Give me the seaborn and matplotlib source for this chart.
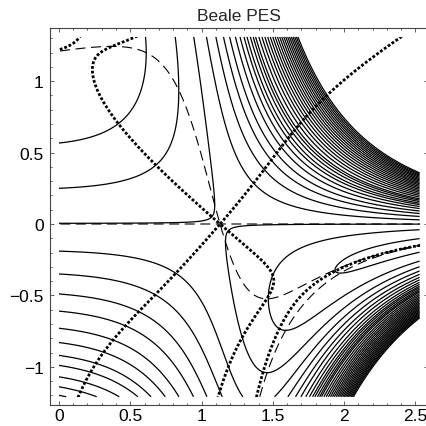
import numpy as np
import matplotlib
matplotlib.use("Agg")
import matplotlib.pyplot as plt
from matplotlib.patches import Rectangle
from matplotlib.ticker import MultipleLocator, FixedLocator, FixedFormatter
import seaborn as sns

sns.set_theme(style="ticks")
plt.rcParams['font.family'] = ['Liberation Sans', 'DejaVu Sans']

# Beale-type surface: the Beale x runs up the vertical axis, y along the horizontal one
beale_c = [1.5, 2.25, 2.625]
kappa, eps = 4.5, -6.5

# plotted window of the surface
h_range = [0.0, 2.53]
v_range = [-1.21, 1.31]

# heights at which contour lines leave the left edge
edge_v = [0.567, 0.25, 0.005, -0.19, -0.35, -0.49, -0.61, -0.73, -0.83,
          -0.92, -0.99, -1.07, -1.14, -1.2]
n_fan = 30  # contour lines above the saddle level

x_ticks = [0, 0.5, 1, 1.5, 2, 2.5]
x_tick_labels = ['0', '0.5', '1', '1.5', '2', '2.5']
y_ticks = [-1, -0.5, 0, 0.5, 1]
y_tick_labels = ['\u22121', '\u22120.5', '0', '0.5', '1']


def beale(x, y):
    return sum((c - x + x * y**(i + 1))**2 for i, c in enumerate(beale_c))


def saddle_y():
    ys = np.linspace(0.8, 1.5, 70001)
    s = 2 * sum(c * (ys**(i + 1) - 1) for i, c in enumerate(beale_c)) + eps
    return ys[np.argmin(np.abs(s))]


y_of_h = saddle_y() / 1.13
x_of_v = (2 * sum(beale_c) - eps) / (2 * (3 + kappa)) / 1.21


def pes(h, v):
    x = x_of_v * v
    return beale(x, y_of_h * h) + kappa * x**2 + eps * x


# contour levels: the left-edge ones, then evenly spaced further up
edge_vals = np.sort(pes(np.zeros(len(edge_v)), np.array(edge_v)))
step = np.polyfit(np.arange(len(edge_v)), edge_vals, 1)[0]
saddle_val = sum(c * c for c in beale_c)
top_level = saddle_val + n_fan * step
upper = np.arange(edge_vals[-1] + step, top_level, step)
levels = np.concatenate([edge_vals, upper])

hg = np.linspace(h_range[0], h_range[1], 700)
vg = np.linspace(v_range[0], v_range[1], 700)
H, V = np.meshgrid(hg, vg)
Z = pes(H, V)

# derivative fields on a slightly wider grid, clipped to the window later
pad = 0.1
hx = np.linspace(h_range[0] - pad, h_range[1] + pad, 900)
vx = np.linspace(v_range[0] - pad, v_range[1] + pad, 900)
HX, VX = np.meshgrid(hx, vx)
ZX = pes(HX, VX)
dh, dv = hx[1] - hx[0], vx[1] - vx[0]
Zv, Zh = np.gradient(ZX, dv, dh)
Zvv, Zvh = np.gradient(Zv, dv, dh)
Zhv, Zhh = np.gradient(Zh, dv, dh)
grad_ext = (Zhh * Zh + Zhv * Zv) * Zv - (Zhv * Zh + Zvv * Zv) * Zh

fig = plt.figure(figsize=(4.26, 4.27), dpi=100)
ax = fig.add_axes([50 / 426, 21 / 427, 378 / 426, 377 / 427])

ax.contour(H, V, Z, levels=levels, colors='black', linewidths=0.9)

window = Rectangle((h_range[0], v_range[0]), h_range[1] - h_range[0],
                   v_range[1] - v_range[0], transform=ax.transData,
                   facecolor='none', edgecolor='none')
ax.add_patch(window)

cs_dash = []
for fld in (Zh, Zv):
    cs = ax.contour(HX, VX, fld, levels=[0], colors='black', linewidths=0.8,
                    linestyles=[(0, (9, 5))])
    cs_dash.append(cs)
cs_ge = ax.contour(HX, VX, grad_ext, levels=[0], colors='black', linewidths=2.0,
                   linestyles=[(0, (1.0, 0.7))])
for cs in cs_dash + [cs_ge]:
    cs.set_clip_path(window)

ax.set_xlim(-0.063, 2.589)
ax.set_ylim(-1.2675, 1.3725)

ax.xaxis.set_major_locator(FixedLocator(x_ticks))
ax.xaxis.set_major_formatter(FixedFormatter(x_tick_labels))
ax.yaxis.set_major_locator(FixedLocator(y_ticks))
ax.yaxis.set_major_formatter(FixedFormatter(y_tick_labels))
ax.xaxis.set_minor_locator(MultipleLocator(0.1))
ax.yaxis.set_minor_locator(MultipleLocator(0.1))

frame = '#444444'
for s in ax.spines.values():
    s.set_color(frame)
    s.set_linewidth(0.8)
ax.tick_params(which='both', direction='in', top=True, right=True,
               color=frame, width=0.6, labelsize=12.5, labelcolor='black')
ax.tick_params(which='major', length=3.0)
ax.tick_params(which='minor', length=1.7)
ax.tick_params(axis='x', pad=2)
ax.tick_params(axis='y', pad=4.5)
ax.set_title("Beale PES", fontsize=12.5, pad=6)

fig.savefig("out.png", dpi=100)
